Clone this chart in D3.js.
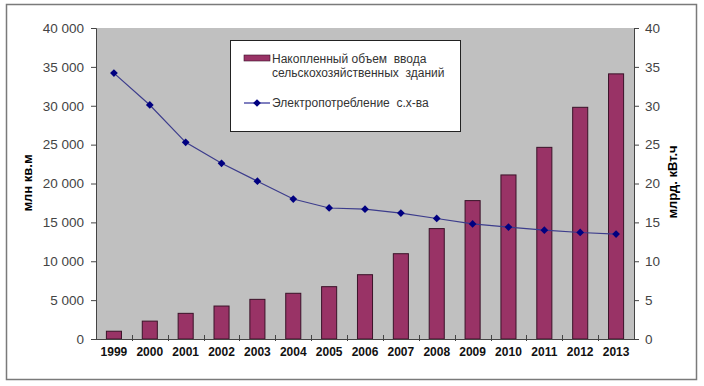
<!DOCTYPE html>
<html>
<head>
<meta charset="utf-8">
<script src="https://cdn.jsdelivr.net/npm/d3@7"></script>
<style>
  body { margin: 0; background: #fff; }
  svg { font-family: "Liberation Sans", Arial, sans-serif; }
</style>
</head>
<body>
<div id="chart"></div>
<script>
// data
var years = ["1999","2000","2001","2002","2003","2004","2005","2006",
    "2007","2008","2009","2010","2011","2012","2013"];
var buildings = [1000, 2300, 3300, 4240, 5100, 5880, 6730, 8270,
    10970, 14200, 17800, 21100, 24650, 29800, 34100];
var power = [34.2, 30.1, 25.3, 22.6, 20.3, 18.0, 16.85, 16.7,
    16.2, 15.5, 14.8, 14.4, 14.0, 13.7, 13.5];
var leftTicks = [0, 5000, 10000, 15000, 20000, 25000, 30000, 35000, 40000];
var rightTicks = [0, 5, 10, 15, 20, 25, 30, 35, 40];
var legendBar = ["Накопленный объем  ввода", "сельскохозяйственных  зданий"];
var legendLine = "Электропотребление  с.х-ва";

var W = 704, H = 386;
var plot = {left: 96, right: 634, top: 28, bottom: 339};

var svg = d3.select("#chart").append("svg")
    .attr("width", W)
    .attr("height", H);

// outer frame
svg.append("rect")
    .attr("x", 6.5).attr("y", 4.5)
    .attr("width", 690).attr("height", 375)
    .attr("fill", "#fff")
    .attr("stroke", "#7a7a7a")
    .attr("stroke-width", 1.5);

// plot background
svg.append("rect")
    .attr("x", plot.left).attr("y", plot.top)
    .attr("width", plot.right - plot.left)
    .attr("height", plot.bottom - plot.top)
    .attr("fill", "#c0c0c0");

var x = d3.scaleBand().domain(years).range([plot.left, plot.right]).padding(0);
var yL = d3.scaleLinear().domain([0, 40000]).range([plot.bottom, plot.top]);
var yR = d3.scaleLinear().domain([0, 40]).range([plot.bottom, plot.top]);
var barW = x.bandwidth() * 0.42;

var fmt = function(d){ return d3.format(",")(d).replace(/,/g, " "); };

// left axis
var gL = svg.append("g")
    .attr("transform", "translate(" + plot.left + ",0)")
    .call(d3.axisLeft(yL).tickValues(leftTicks).tickFormat(fmt).tickSize(5).tickPadding(7));
// right axis
var gR = svg.append("g")
    .attr("transform", "translate(" + plot.right + ",0)")
    .call(d3.axisRight(yR).tickValues(rightTicks).tickSize(5).tickPadding(6));
[gL, gR].forEach(function(g){
    g.select(".domain").attr("stroke", "#444");
    g.selectAll(".tick line").attr("stroke", "#444");
    g.selectAll(".tick text")
        .attr("fill", "#444")
        .attr("font-size", "13.5px")
        .attr("font-family", "Liberation Sans, Arial, sans-serif");
});

// bars
svg.selectAll(".bar")
    .data(buildings)
    .enter()
    .append("rect")
    .attr("class", "bar")
    .attr("x", function(d, i){ return x(years[i]) + (x.bandwidth() - barW) / 2; })
    .attr("y", function(d){ return yL(d); })
    .attr("width", barW)
    .attr("height", function(d){ return plot.bottom - yL(d); })
    .attr("fill", "#993366")
    .attr("stroke", "#3a1228")
    .attr("stroke-width", 1);

// x axis
svg.append("line")
    .attr("x1", plot.left).attr("x2", plot.right)
    .attr("y1", plot.bottom + 0.5).attr("y2", plot.bottom + 0.5)
    .attr("stroke", "#444");
svg.selectAll(".xtick")
    .data(years.slice(1))
    .enter()
    .append("line")
    .attr("x1", function(d){ return Math.round(x(d)) + 0.5; })
    .attr("x2", function(d){ return Math.round(x(d)) + 0.5; })
    .attr("y1", plot.bottom - 4)
    .attr("y2", plot.bottom + 2)
    .attr("stroke", "#444");
svg.selectAll(".xlabel")
    .data(years)
    .enter()
    .append("text")
    .text(function(d){ return d; })
    .attr("x", function(d){ return x(d) + x.bandwidth() / 2; })
    .attr("y", 356)
    .attr("text-anchor", "middle")
    .attr("font-size", "12px")
    .attr("font-weight", "bold")
    .attr("fill", "#111");

// line
var line = d3.line()
    .x(function(d, i){ return x(years[i]) + x.bandwidth() / 2; })
    .y(function(d){ return yR(d); });
svg.append("path")
    .datum(power)
    .attr("d", line)
    .attr("fill", "none")
    .attr("stroke", "#3c3c8c")
    .attr("stroke-width", 1.2);
// Excel-style diamond: a square turned 45 degrees
var diamond = d3.symbol().type(d3.symbolSquare).size(30);
svg.selectAll(".pt")
    .data(power)
    .enter()
    .append("path")
    .attr("d", diamond)
    .attr("transform", function(d, i){
        return "translate(" + (x(years[i]) + x.bandwidth() / 2) + "," + yR(d) + ") rotate(45)";
    })
    .attr("fill", "#000080");

// axis titles
svg.append("text")
    .text("млн кв.м")
    .attr("transform", "translate(32,183) rotate(-90)")
    .attr("text-anchor", "middle")
    .attr("font-size", "13px")
    .attr("font-weight", "bold");
svg.append("text")
    .text("млрд. кВт.ч")
    .attr("transform", "translate(677,182) rotate(-90)")
    .attr("text-anchor", "middle")
    .attr("font-size", "13px")
    .attr("font-weight", "bold");

// legend
var lg = svg.append("g");
lg.append("rect")
    .attr("x", 230.5).attr("y", 40.5)
    .attr("width", 230).attr("height", 91)
    .attr("fill", "#fff")
    .attr("stroke", "#222");
lg.append("rect")
    .attr("x", 244).attr("y", 55)
    .attr("width", 26).attr("height", 6)
    .attr("fill", "#993366")
    .attr("stroke", "#3a1228")
    .attr("stroke-width", 0.6);
lg.selectAll(".lbar")
    .data(legendBar)
    .enter()
    .append("text")
    .text(function(d){ return d; })
    .attr("x", 272)
    .attr("y", function(d, i){ return 63 + i * 14; })
    .attr("font-size", "12px")
    .attr("fill", "#333")
    .style("white-space", "pre");
lg.append("line")
    .attr("x1", 244).attr("x2", 270)
    .attr("y1", 103).attr("y2", 103)
    .attr("stroke", "#000080");
lg.append("path")
    .attr("d", diamond)
    .attr("transform", "translate(257,103) rotate(45)")
    .attr("fill", "#000080");
lg.append("text")
    .text(legendLine)
    .attr("x", 272)
    .attr("y", 107)
    .attr("font-size", "12px")
    .attr("fill", "#333")
    .style("white-space", "pre");
</script>
</body>
</html>
